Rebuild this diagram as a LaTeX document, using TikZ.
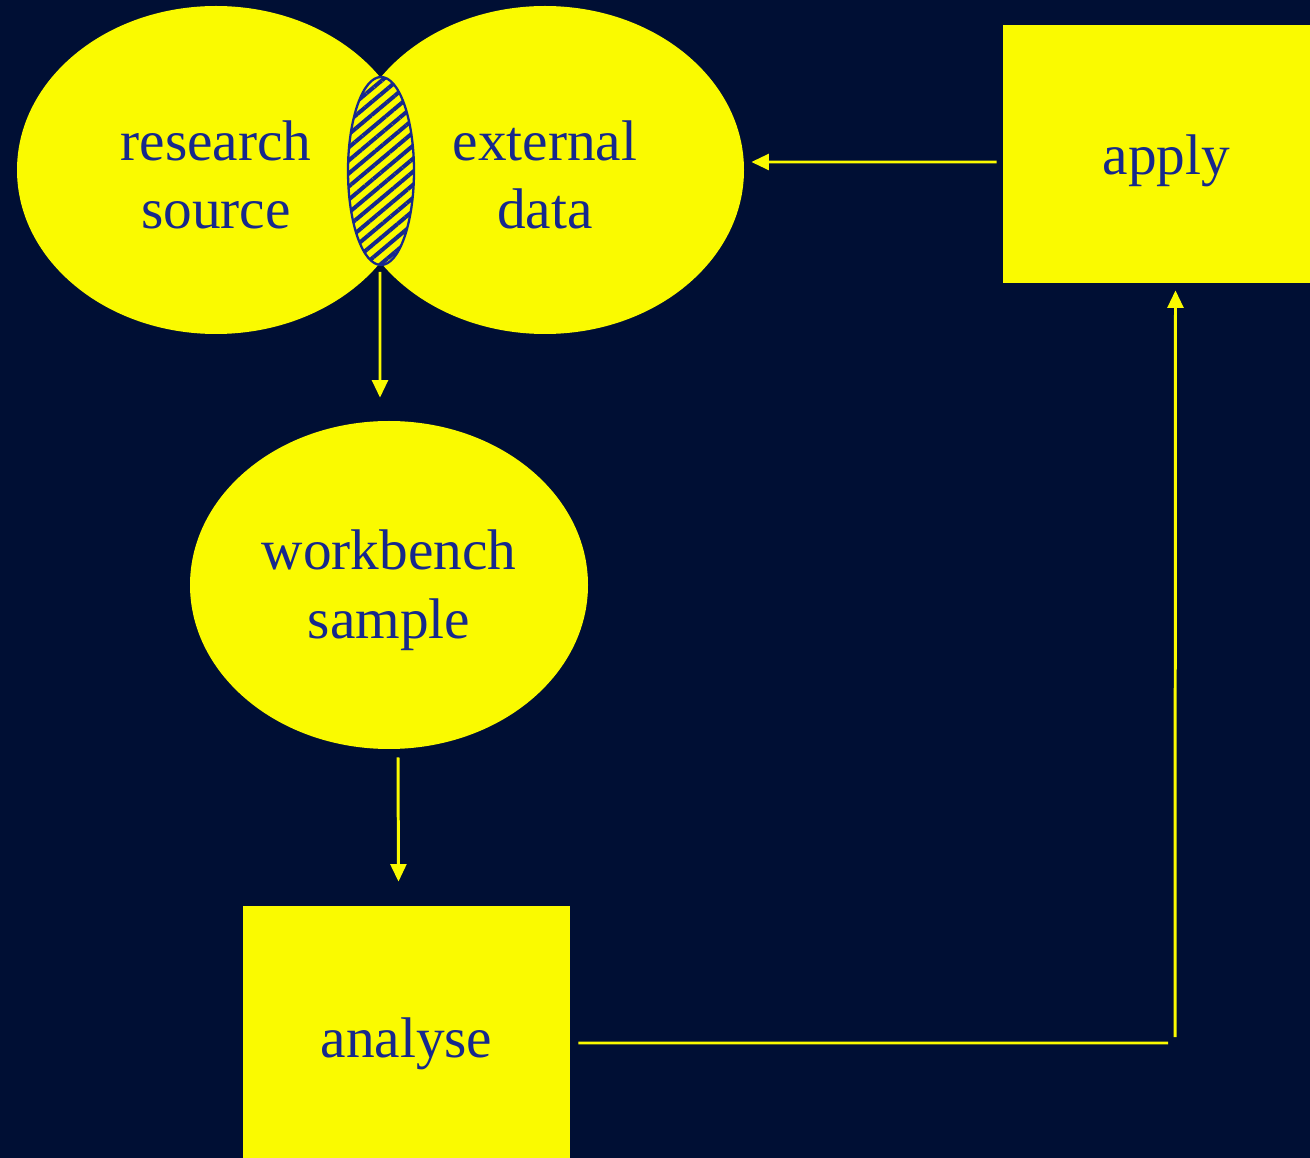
\documentclass[tikz,border=0pt]{standalone}
\usepackage{fontspec}
\setmainfont{Liberation Serif}
\usetikzlibrary{shapes.geometric,patterns.meta,arrows.meta}
\definecolor{night}{RGB}{0,15,52}
\definecolor{lemon}{RGB}{250,250,0}
\definecolor{ink}{RGB}{22,40,140}
\begin{document}
\begin{tikzpicture}[
  caption/.style={text=ink, align=center, inner sep=0, font=\fontsize{32.6}{39}\selectfont},
  blob/.style={ellipse, fill=lemon, inner sep=0, minimum width=7.96cm, minimum height=6.56cm},
  panel/.style={rectangle, fill=lemon, inner sep=0},
  wire/.style={draw=lemon, line width=1.7pt},
  link/.style={wire, -{Triangle[length=10pt,width=9pt]}}
]
% page background and frame
\fill[night] (0,0) rectangle (26.2,-23.16);
\clip (0,0) rectangle (26.2,-23.16);

% the two overlapping sources
\node[blob] (research) at (4.32,-3.40) {};
\node[blob] (ext) at (10.90,-3.40) {};

% their intersection, hatched
\node[ellipse, inner sep=0, minimum width=1.32cm, minimum height=3.76cm,
      draw=ink, line width=1.3pt, preaction={fill=lemon},
      pattern={Lines[angle=40,distance=0.2cm,line width=0.08cm]}, pattern color=ink]
      (overlap) at (7.62,-3.42) {};

% workbench sample
\node[blob] (bench) at (7.78,-11.70) {};

% process boxes
\node[panel, minimum width=6.54cm, minimum height=5.16cm] (apply) at (23.33,-3.08) {};
\node[panel, minimum width=6.54cm, minimum height=5.36cm] (analyse) at (8.13,-20.80) {};

% captions
\node[caption] (researchtxt) at ([yshift=-0.1cm]research.center) {research\\source};
\node[caption] (exttxt) at ([yshift=-0.1cm]ext.center) {external\\data};
\node[caption] (benchtxt) at ([yshift=-0.1cm]bench.center) {workbench\\sample};
\node[caption] (applytxt) at ([yshift=-0.14cm]apply.center) {apply};
\node[caption] (analysetxt) at ([yshift=-0.08cm]analyse.center) {analyse};

% connectors
\coordinate (bend) at (23.50,-20.86);
\draw[link] ([shift={(-0.12,-0.16)}]apply.west) -- ([shift={(0.14,0.16)}]ext.east);
\draw[link] ([shift={(-0.02,-0.10)}]overlap.south) -- ([shift={(-0.18,0.46)}]bench.north);
\draw[link] ([shift={(0.18,-0.16)}]bench.south) -- ([shift={(-0.16,0.48)}]analyse.north);
\draw[wire] ([shift={(0.16,-0.06)}]analyse.east) -- ([xshift=-0.14cm]bend);
\draw[link] ([yshift=0.12cm]bend) -- ([shift={(0.18,-0.14)}]apply.south);
\end{tikzpicture}
\end{document}
